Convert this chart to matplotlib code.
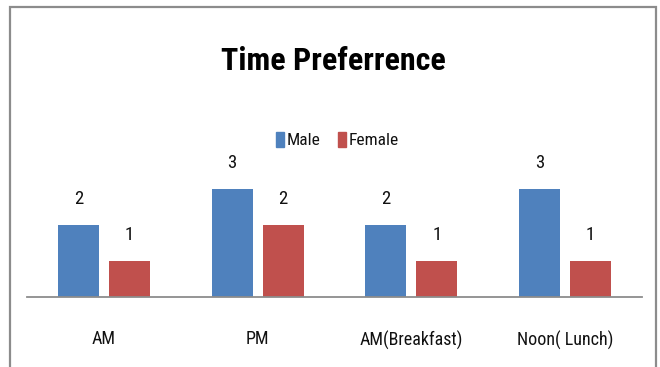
import matplotlib
matplotlib.use("Agg")
import matplotlib.pyplot as plt
from matplotlib import font_manager
from matplotlib.patches import Rectangle, Patch
import numpy as np

# categories and counts
categories = ["AM", "PM", "AM(Breakfast)", "Noon( Lunch)"]
male = [2, 3, 2, 3]
female = [1, 2, 1, 1]
series_names = ["Male", "Female"]
colors = ["#4F81BD", "#C0504D"]

# pick a narrow face if one is installed
installed = {f.name for f in font_manager.fontManager.ttflist}
family = "DejaVu Sans"
for name in ["Liberation Sans Narrow", "DejaVu Sans Condensed", "Roboto Condensed"]:
    if name in installed:
        family = name
        break
plt.rcParams["font.family"] = [family, "DejaVu Sans"]

W, H = 660, 367
fig = plt.figure(figsize=(W / 100, H / 100), dpi=100)

# outer chart border
fig.patches.append(Rectangle((10 / W, -0.1), 646 / W, 1.1 - 7 / H,
                             transform=fig.transFigure, fill=False,
                             edgecolor="#8c8c8c", linewidth=1.6))

# plot area: baseline at y=297px, 36 px per unit
ax = fig.add_axes([27 / W, (H - 297) / H, 615 / W, 144 / H])
x = np.arange(len(categories))
off, bw = 0.166, 0.267
b1 = ax.bar(x - off, male, bw, color=colors[0])
b2 = ax.bar(x + off, female, bw, color=colors[1])

for bars, vals in [(b1, male), (b2, female)]:
    for rect, v in zip(bars, vals):
        ax.annotate(str(v), (rect.get_x() + rect.get_width() / 2, v),
                    xytext=(0, 26), textcoords="offset pixels",
                    ha="center", va="center", fontsize=13.5, color="#111111")

ax.set_xlim(-0.5, len(categories) - 0.5)
ax.set_ylim(0, 4)
ax.set_xticks(x)
ax.set_xticklabels(categories, fontsize=13, color="#111111")
ax.tick_params(axis="x", length=0, pad=24)
ax.set_yticks([])
for s in ["top", "left", "right"]:
    ax.spines[s].set_visible(False)
ax.spines["bottom"].set_color("#8c8c8c")
ax.spines["bottom"].set_linewidth(1.3)
ax.patch.set_alpha(0)

fig.text(333.5 / W, 1 - 61 / H, "Time Preferrence", ha="center", va="center",
         fontsize=23, fontweight="bold", color="black")

handles = [Patch(color=c) for c in colors]
fig.legend(handles, series_names, loc="center", bbox_to_anchor=(337.5 / W, 1 - 140 / H),
           ncol=2, frameon=False, fontsize=12.5, handlelength=0.45, handleheight=0.95,
           handletextpad=0.15, columnspacing=1.0, borderpad=0, labelcolor="#111111")

fig.savefig("out.png", dpi=100)
